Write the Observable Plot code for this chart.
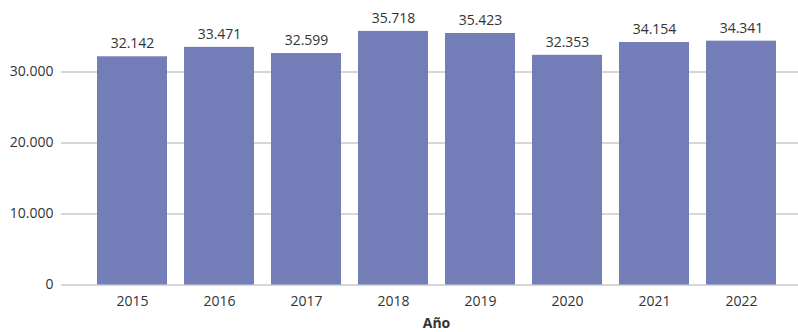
<!DOCTYPE html>
<html>
<head>
<meta charset="utf-8">
<script src="https://cdn.jsdelivr.net/npm/d3@7"></script>
<script src="https://cdn.jsdelivr.net/npm/@observablehq/plot@0.6"></script>
<style>
  body { margin: 0; background: #fff; }
  #chart svg { display: block; }
</style>
</head>
<body>
<div id="chart"></div>
<script>
const years = ["2015", "2016", "2017", "2018", "2019", "2020", "2021", "2022"];
const values = [32142, 33471, 32599, 35718, 35423, 32353, 34154, 34341];
const yTicks = [0, 10000, 20000, 30000];
const xLabel = "Año";

const data = years.map((y, i) => ({year: y, value: values[i]}));
const fmt = d3.formatLocale({decimal: ",", thousands: ".", grouping: [3], currency: ["", ""]}).format(",");

const chart = Plot.plot({
  width: 798,
  height: 332,
  marginLeft: 77.5,
  marginRight: 3.5,
  marginTop: 0.5,
  marginBottom: 47.5,
  style: {fontFamily: "'Open Sans', sans-serif", fontSize: "14px", color: "#333", background: "#fff"},
  x: {domain: years, padding: 0.2, label: null},
  y: {domain: [0, 40000], label: null},
  marks: [
    Plot.ruleY(yTicks, {stroke: "#c8c8c8", strokeWidth: 1.5, insetLeft: -16.5, insetRight: -3.5}),
    Plot.barY(data, {x: "year", y: "value", fill: "#737eb9"}),
    Plot.text(data, {x: "year", y: "value", text: d => fmt(d.value), dy: -13, fill: "#333", fontSize: 14}),
    Plot.axisY(yTicks, {tickSize: 0, tickPadding: 24.5, tickFormat: fmt, fontSize: 14, fill: "#333", label: null}),
    Plot.axisX({tickSize: 0, tickPadding: 11, fontSize: 14, fill: "#333", label: null}),
    Plot.text([xLabel], {frameAnchor: "bottom", dy: 43, text: d => d, fontWeight: "bold", fontSize: 14, fill: "#333"})
  ]
});
document.getElementById("chart").appendChild(chart);
</script>
</body>
</html>
